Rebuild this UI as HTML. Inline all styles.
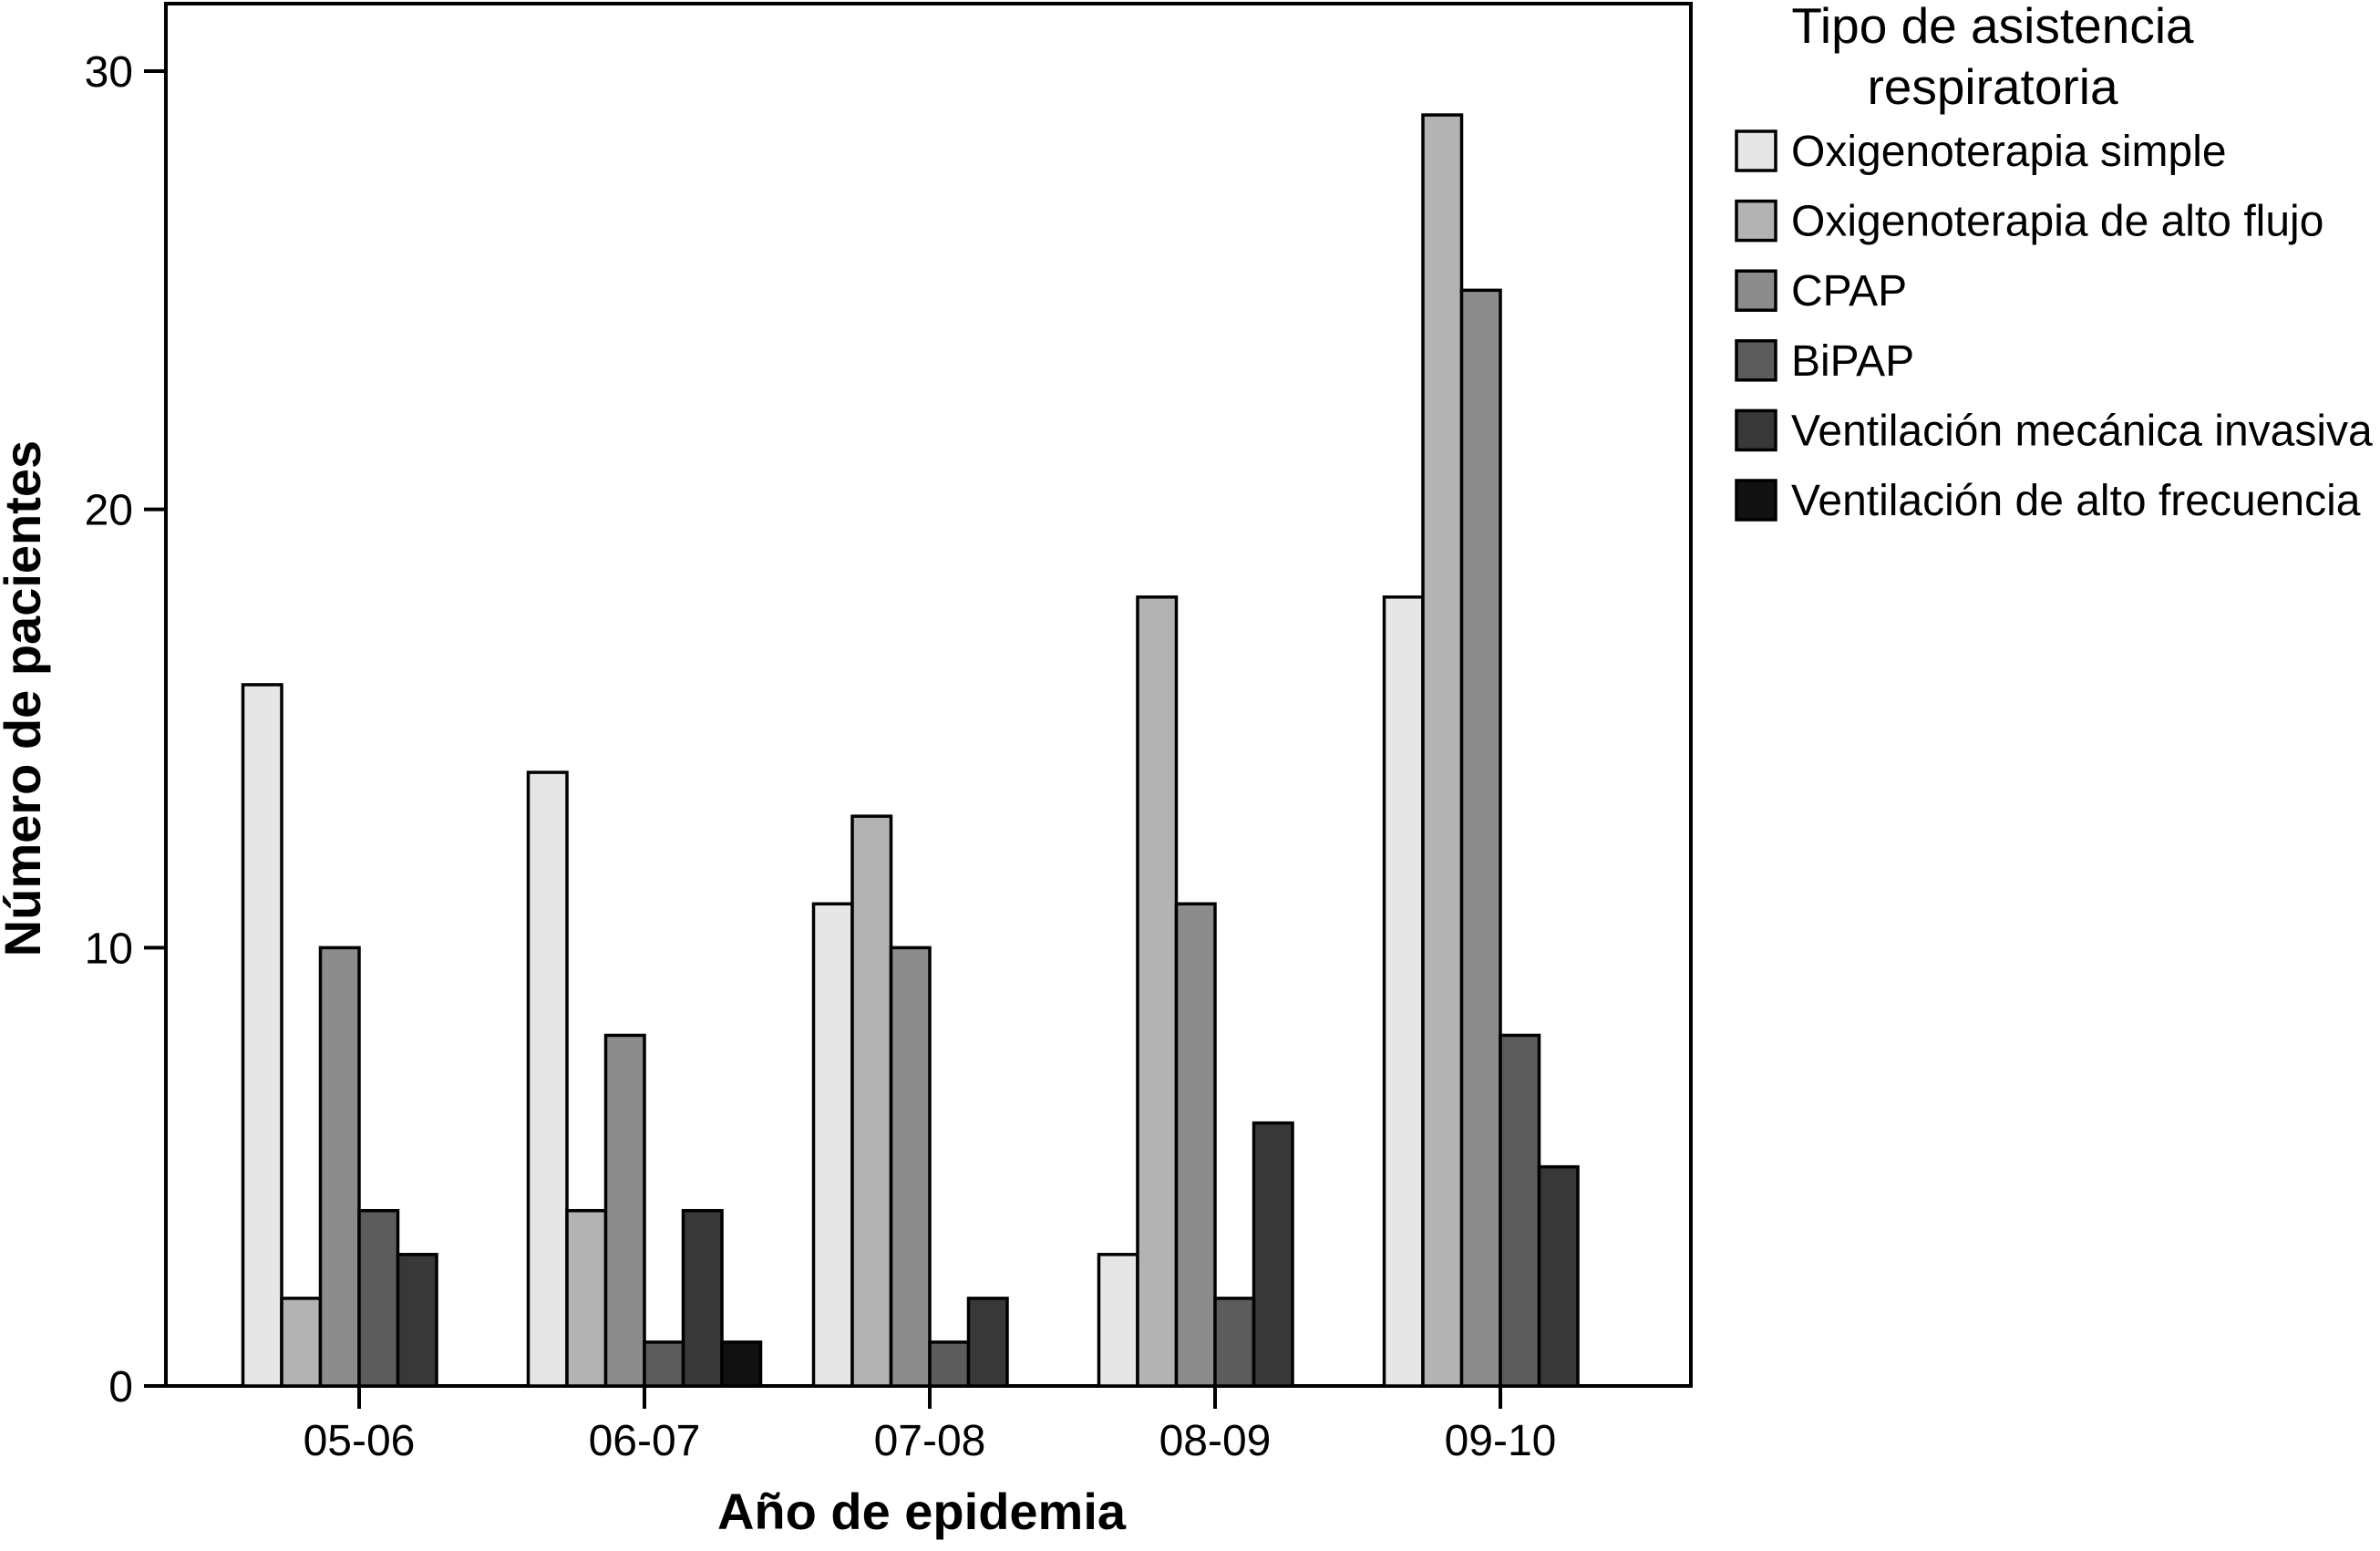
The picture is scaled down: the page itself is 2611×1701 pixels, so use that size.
<!DOCTYPE html>
<html><head><meta charset="utf-8"><style>
html,body{margin:0;padding:0;background:#fff;}
svg{display:block;font-family:"Liberation Sans",Arial,sans-serif;}
</style></head><body>
<svg id="chart" width="2611" height="1701" viewBox="0 0 2611 1701">
<rect x="182" y="4" width="1673" height="1516" fill="none" stroke="#000" stroke-width="4"/>
<g id="bars"></g>
<g id="axes"></g>
<text x="1011" y="1677" text-anchor="middle" font-size="56" font-weight="bold">Año de epidemia</text>
<text transform="translate(44,766) rotate(-90)" text-anchor="middle" font-size="56" font-weight="bold">Número de pacientes</text>
<g id="legend">
<text x="2186" y="47" text-anchor="middle" font-size="55">Tipo de asistencia</text>
<text x="2186" y="114" text-anchor="middle" font-size="55">respiratoria</text>
</g>
</svg>
<script>
const categories = ["05-06","06-07","07-08","08-09","09-10"];
const seriesNames = ["Oxigenoterapia simple","Oxigenoterapia de alto flujo","CPAP","BiPAP","Ventilación mecánica invasiva","Ventilación de alto frecuencia"];
const oxSimple = [16,14,11,3,18];
const oxAltoFlujo = [2,4,13,18,29];
const cpap = [10,8,10,11,25];
const bipap = [4,1,1,2,8];
const vmi = [3,4,2,6,5];
const vaf = [0,1,0,0,0];
const yTicks = [0,10,20,30];
const seriesValues = [oxSimple,oxAltoFlujo,cpap,bipap,vmi,vaf];
const colors = ["#e6e6e6","#b3b3b3","#8c8c8c","#5c5c5c","#383838","#111111"];
const NS="http://www.w3.org/2000/svg";
const y0=1520, pxPerUnit=(1520-78)/30;
function yScale(v){return y0 - v*pxPerUnit;}
const groupStart=394, groupStep=313, barW=42.5;
function xCenter(i){return groupStart + i*groupStep;}
function xBar(i,s){return xCenter(i) - 3*barW + s*barW;}
const bars=document.getElementById('bars');
seriesValues.forEach((vals,s)=>{
  vals.forEach((v,i)=>{
    if(v<=0) return;
    const r=document.createElementNS(NS,'rect');
    r.setAttribute('x',xBar(i,s)); r.setAttribute('y',yScale(v));
    r.setAttribute('width',barW); r.setAttribute('height',y0-yScale(v));
    r.setAttribute('fill',colors[s]); r.setAttribute('stroke','#000'); r.setAttribute('stroke-width','3.5');
    
    
    bars.appendChild(r);
  });
});
const axes=document.getElementById('axes');
yTicks.forEach(t=>{
  const l=document.createElementNS(NS,'line');
  l.setAttribute('x1',158);l.setAttribute('x2',182);l.setAttribute('y1',yScale(t));l.setAttribute('y2',yScale(t));
  l.setAttribute('stroke','#000');l.setAttribute('stroke-width','4');
  
  
  axes.appendChild(l);
  const tx=document.createElementNS(NS,'text');
  tx.setAttribute('x',146);tx.setAttribute('y',yScale(t)+17);tx.setAttribute('text-anchor','end');tx.setAttribute('font-size','48');
  tx.textContent=t;
  
  
  axes.appendChild(tx);
});
categories.forEach((c,i)=>{
  const l=document.createElementNS(NS,'line');
  l.setAttribute('x1',xCenter(i));l.setAttribute('x2',xCenter(i));l.setAttribute('y1',1520);l.setAttribute('y2',1545);
  l.setAttribute('stroke','#000');l.setAttribute('stroke-width','4');
  
  
  axes.appendChild(l);
  const tx=document.createElementNS(NS,'text');
  tx.setAttribute('x',xCenter(i));tx.setAttribute('y',1596);tx.setAttribute('text-anchor','middle');tx.setAttribute('font-size','48');
  tx.textContent=c;
  
  
  axes.appendChild(tx);
});
const legend=document.getElementById('legend');
seriesNames.forEach((n,s)=>{
  const cy=165+s*76.6;
  const r=document.createElementNS(NS,'rect');
  r.setAttribute('x',1905);r.setAttribute('y',cy-21);r.setAttribute('width',43);r.setAttribute('height',43);
  r.setAttribute('fill',colors[s]);r.setAttribute('stroke','#000');r.setAttribute('stroke-width','3.5');
  
  
  legend.appendChild(r);
  const tx=document.createElementNS(NS,'text');
  tx.setAttribute('x',1965);tx.setAttribute('y',cy+17);tx.setAttribute('font-size','48');
  tx.textContent=n;
  
  
  legend.appendChild(tx);
});
</script>
</body></html>
